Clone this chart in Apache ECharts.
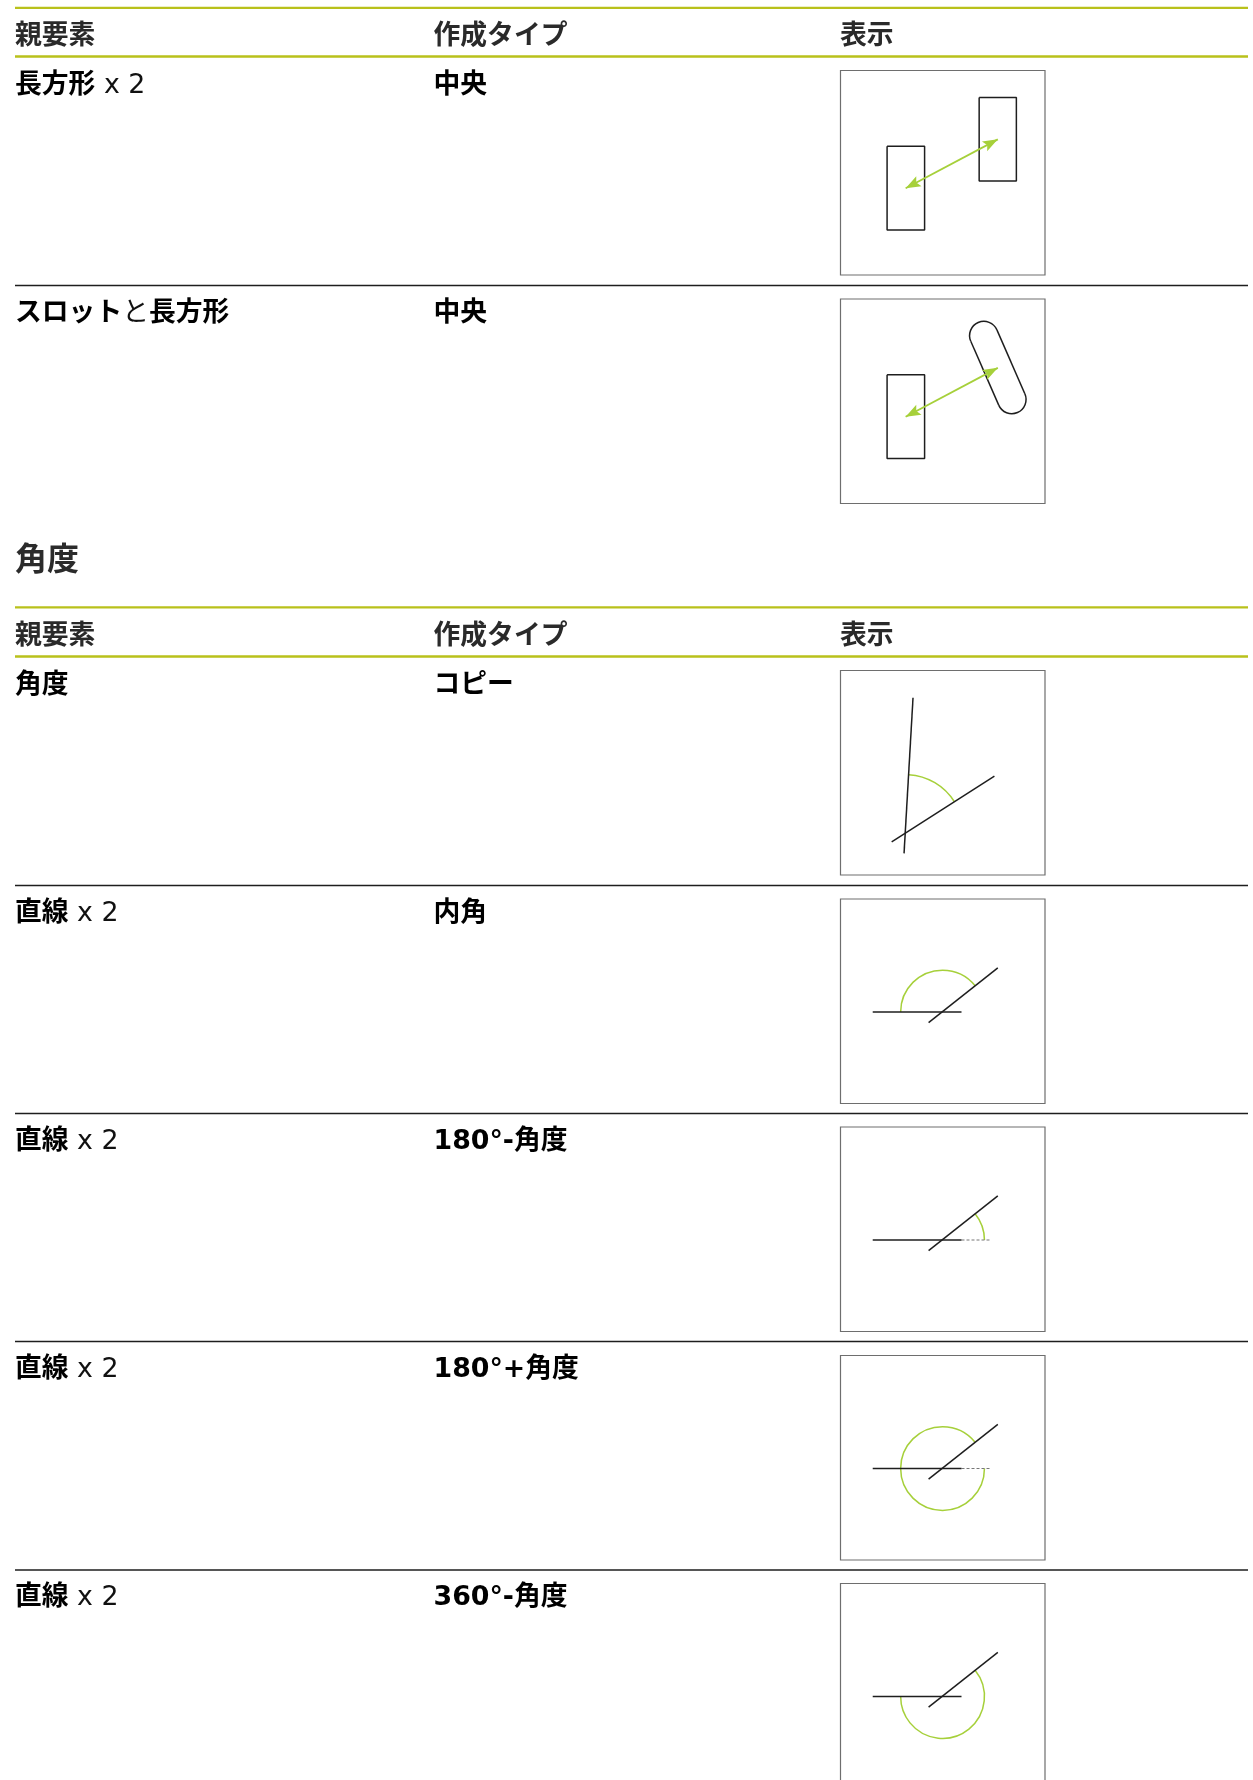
<!DOCTYPE html>
<html>
<head>
<meta charset="utf-8">
<style>html,body{margin:0;padding:0;background:#fff}#c{width:1253px;height:1780px}</style>
<script src="https://cdn.jsdelivr.net/npm/echarts@6/dist/echarts.min.js"></script>
</head>
<body>
<div id="c"></div>
<script>
// ---------- table text ----------
const headers = ['親要素', '作成タイプ', '表示'];
const sectionTitle = '角度';
const parentElements = ['{b|長方形}{r| x 2}', '{b|スロット}{r|と}{b|長方形}', '{b|角度}',
  '{b|直線}{r| x 2}', '{b|直線}{r| x 2}', '{b|直線}{r| x 2}', '{b|直線}{r| x 2}'];
const creationTypes = ['中央', '中央', 'コピー', '内角', '180°-角度', '180°+角度', '360°-角度'];

// ---------- diagram geometry, in diagram units (each frame spans 0..205) ----------
const rectLeft  = [[46.7,76],[84.3,76],[84.3,160],[46.7,160],[46.7,76]];
const rectRight = [[139,27],[176.3,27],[176.3,110.7],[139,110.7],[139,27]];
const centerArrow = [[157.7,69,65.3,118]];
const slotSide1 = [[156.8,31],[184.8,95]];
const slotSide2 = [[130.6,42.4],[158.6,106.4]];
// arcs: centre x, centre y, radius, start degree, end degree (clockwise on screen)
const slotArcs = [[143.7,36.7,14.3,156.5,336.5],[171.7,100.7,14.3,-23.5,156.5]];
const steepLine = [[72.7,27.3],[63.7,183.3]];
const slopeLine = [[51.3,171.7],[154.3,106]];
const copyArc = [[65,162.3,58,-86.7,-32]];
const baseLine = [[32.3,113.3],[121.3,113.3]];
const crossLine = [[88.3,124],[157.7,69]];
const baseExtension = [[121.3,113.3],[150,113.3]];
const innerArc = [[102.3,113.3,42,180,321]];
const minusArc = [[102.3,113.3,42,321,360]];
const plusArc = [[102.3,113.3,42,0,321]];
const fullMinusArc = [[102.3,113.3,42,-39,180]];

const diagrams = [
  {top:70,   lines:[rectLeft,rectRight], arrows:centerArrow},
  {top:298.5,lines:[rectLeft,slotSide1,slotSide2], arcsBlack:slotArcs, arrows:centerArrow},
  {top:670,  lines:[steepLine,slopeLine], arcs:copyArc},
  {top:898.5,lines:[baseLine,crossLine], arcs:innerArc},
  {top:1126.5,lines:[baseLine,crossLine], dashed:baseExtension, arcs:minusArc},
  {top:1355, lines:[baseLine,crossLine], dashed:baseExtension, arcs:plusArc},
  {top:1583, lines:[baseLine,crossLine], arcs:fullMinusArc}
];

// ---------- layout ----------
const FONT = '"DejaVu Sans","Noto Sans CJK JP","Noto Sans CJK SC",sans-serif';
const colX = [15, 433.5, 840];
const FRAME = 205;
const GREEN_RULE = '#b9c11b', BLACK = '#1e1e1e', GREEN = '#a6d03a';
const greenRules = [8, 56.5, 607.5, 656.5];
const blackRules = [285.5, 885.5, 1113.5, 1341.5, 1570];
const headerY = [37.2, 636.8];
const rowY = [85.8, 314.2, 686.2, 914.2, 1142.2, 1370.2, 1598.2];

const graphic = [];
greenRules.forEach((y,i)=>graphic.push({type:'rect',silent:true,
  shape:{x:15,y:y-1.25,width:1233,height:i%2?2.6:2.2},style:{fill:GREEN_RULE}}));
blackRules.forEach(y=>graphic.push({type:'rect',silent:true,
  shape:{x:15,y:y-0.7,width:1233,height:1.4},style:{fill:BLACK}}));
const addText=(t,x,y,size,color,weight)=>graphic.push({type:'text',silent:true,
  style:{text:t,x,y,fill:color,font:(weight||'bold')+' '+size+'px '+FONT,verticalAlign:'middle',align:'left'}});
headerY.forEach(y=>headers.forEach((h,i)=>addText(h,colX[i],y,26.8,'#2a2a2a')));
addText(sectionTitle,15,562,32,'#2b2b2b');
const rich={b:{fontFamily:FONT,fontWeight:'bold',fontSize:26.8,fill:'#000',color:'#000'},
            r:{fontFamily:FONT,fontWeight:'normal',fontSize:26.8,fill:'#111',color:'#111'}};
parentElements.forEach((t,i)=>graphic.push({type:'text',silent:true,
  style:{text:t,x:colX[0],y:rowY[i],rich,verticalAlign:'middle',align:'left'}}));
creationTypes.forEach((t,i)=>addText(t,colX[1],rowY[i],26.8,'#000'));

// ---------- renderers ----------
function renderArc(color,width){
  return function(p,api){
    const c=api.coord([api.value(0),api.value(1)]);
    const r=api.size([api.value(2),0])[0];
    return {type:'arc',shape:{cx:c[0],cy:c[1],r,
        startAngle:api.value(3)*Math.PI/180,endAngle:api.value(4)*Math.PI/180,clockwise:true},
      style:{fill:null,stroke:color,lineWidth:width}};
  };
}
function arrowHead(tip,tail,len,half,notch){
  const dx=tail[0]-tip[0],dy=tail[1]-tip[1],d=Math.hypot(dx,dy),ux=dx/d,uy=dy/d;
  return [tip,
    [tip[0]+ux*len-uy*half,tip[1]+uy*len+ux*half],
    [tip[0]+ux*notch,tip[1]+uy*notch],
    [tip[0]+ux*len+uy*half,tip[1]+uy*len-ux*half]];
}
function renderArrow(p,api){
  const a=api.coord([api.value(0),api.value(1)]),b=api.coord([api.value(2),api.value(3)]);
  return {type:'group',children:[
    {type:'line',shape:{x1:a[0],y1:a[1],x2:b[0],y2:b[1]},style:{stroke:GREEN,lineWidth:1.8}},
    {type:'polygon',shape:{points:arrowHead(a,b,15,5.6,12)},style:{fill:GREEN}},
    {type:'polygon',shape:{points:arrowHead(b,a,15,5.6,12)},style:{fill:GREEN}}
  ]};
}

const grids=[],xAxes=[],yAxes=[],series=[];
diagrams.forEach((d,i)=>{
  grids.push({left:colX[2]+0.5,top:d.top+0.5,width:FRAME-0.5,height:FRAME-0.5,show:true,
    borderColor:'#6e6e6e',borderWidth:1.2,backgroundColor:'#fff',containLabel:false,outerBoundsMode:'none'});
  xAxes.push({type:'value',gridIndex:i,min:0,max:FRAME,show:false});
  yAxes.push({type:'value',gridIndex:i,min:0,max:FRAME,inverse:true,show:false});
  const ax={xAxisIndex:i,yAxisIndex:i,silent:true,animation:false};
  (d.lines||[]).forEach(l=>series.push({...ax,type:'line',data:l,showSymbol:false,symbol:'none',
    lineStyle:{color:BLACK,width:1.5},z:3}));
  if(d.dashed) series.push({...ax,type:'line',data:d.dashed,showSymbol:false,symbol:'none',
    lineStyle:{color:'#777',width:1.2,type:[3,2]},z:2});
  if(d.arcs) series.push({...ax,type:'custom',data:d.arcs,renderItem:renderArc(GREEN,1.5),clip:false,z:2,
    encode:{x:0,y:1}});
  if(d.arcsBlack) series.push({...ax,type:'custom',data:d.arcsBlack,renderItem:renderArc(BLACK,1.5),clip:false,z:3,
    encode:{x:0,y:1}});
  if(d.arrows) series.push({...ax,type:'custom',data:d.arrows,renderItem:renderArrow,clip:false,z:4,
    encode:{x:[0,2],y:[1,3]}});
});

const chart=echarts.init(document.getElementById('c'),null,{renderer:'canvas',width:1253,height:1780});
chart.setOption({animation:false,backgroundColor:'#fff',grid:grids,xAxis:xAxes,yAxis:yAxes,series,graphic,
  tooltip:{show:false},legend:{show:false}});
</script>
</body>
</html>
